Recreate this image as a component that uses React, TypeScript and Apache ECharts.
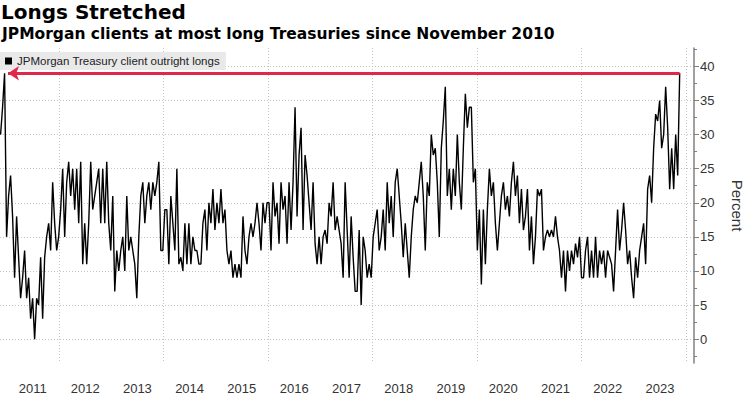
import React, { useEffect, useRef } from 'react';
import * as echarts from 'echarts';

const chartTitle = 'Longs Stretched';
const chartSubtitle = 'JPMorgan clients at most long Treasuries since November 2010';
const seriesName = 'JPMorgan Treasury client outright longs';

// biweekly observations starting 2010-11-19
const firstObs = [2010, 10, 19];
const stepDays = 14;
const longs = [
  30, 34, 39, 15, 21, 24, 18, 9, 18, 12,
  6, 9, 13, 6, 9, 3, 6, 0, 6, 5,
  12, 3, 12, 15, 17, 13, 23, 17, 13, 15,
  19, 25, 15, 23, 26, 21, 25, 19, 25, 17,
  26, 11, 17, 11, 17, 26, 19, 21, 23, 25,
  17, 25, 17, 26, 17, 13, 21, 7, 13, 10,
  13, 15, 10, 21, 13, 15, 13, 11, 6, 15,
  21, 23, 17, 21, 23, 19, 23, 21, 23, 26,
  13, 13, 19, 19, 11, 21, 17, 13, 25, 11,
  12, 10, 17, 11, 17, 11, 15, 13, 13, 11,
  11, 17, 19, 13, 20, 17, 22, 16, 20, 17,
  22, 17, 19, 13, 11, 13, 9, 11, 9, 11,
  9, 18, 13, 11, 15, 17, 15, 17, 20, 17,
  13, 20, 17, 20, 20, 13, 23, 18, 20, 14,
  23, 19, 21, 14, 23, 16, 23, 34, 18, 27,
  31, 16, 27, 24, 20, 16, 23, 14, 11, 15,
  11, 15, 16, 14, 20, 18, 23, 16, 18, 16,
  14, 9, 23, 16, 9, 18, 12, 7, 7, 16,
  5, 15, 13, 9, 11, 9, 15, 17, 19, 13,
  15, 19, 13, 23, 17, 21, 15, 23, 25, 21,
  17, 12, 17, 13, 9, 15, 19, 21, 20, 23,
  26, 21, 13, 23, 21, 30, 27, 28, 23, 15,
  28, 32, 37, 21, 25, 19, 25, 21, 30, 23,
  19, 28, 36, 31, 34, 34, 23, 25, 13, 19,
  8, 19, 11, 19, 25, 21, 23, 17, 13, 17,
  21, 23, 19, 21, 18, 23, 26, 21, 24, 17,
  22, 16, 18, 22, 13, 18, 11, 15, 22, 21,
  22, 13, 15, 16, 15, 16, 15, 18, 15, 13,
  9, 13, 7, 13, 10, 13, 11, 14, 12, 15,
  9, 9, 13, 15, 9, 13, 9, 15, 9, 13,
  11, 13, 9, 13, 12, 11, 7, 13, 19, 13,
  16, 20, 16, 11, 13, 9, 6, 12, 9, 13,
  15, 17, 11, 22, 24, 20, 28, 33, 32, 35,
  28, 30, 37, 31, 22, 28, 22, 30, 24, 39,
];

const yearLabels = [2011, 2012, 2013, 2014, 2015, 2016, 2017, 2018, 2019, 2020, 2021, 2022, 2023];
const gridYears = [2012, 2014, 2016, 2018, 2020, 2022, 2024];
const yTicks = [0, 5, 10, 15, 20, 25, 30, 35, 40];
const yMinorTicks = [-2.5, 2.5, 7.5, 12.5, 17.5, 22.5, 27.5, 32.5, 37.5, 42.5];
const recordLevel = 39;
const arrowDate = [2011, 0, 10];
const axisStart = [2010, 10, 15];
const axisEnd = [2024, 1, 25];
const yMin = -3.5;
const yMax = 42.7;

const FONT = 'Arial, "Liberation Sans", sans-serif';
const TITLE_FONT = '"DejaVu Sans", Verdana, sans-serif';

export default function App() {
  const ref = useRef<HTMLDivElement>(null);
  useEffect(() => {
    if (!ref.current) return;
    const chart = echarts.init(ref.current, null, { renderer: 'svg' });
    const t0 = Date.UTC(firstObs[0], firstObs[1], firstObs[2]);
    const data = longs.map((v, i) => [t0 + i * stepDays * 86400000, v]);
    const lastT = data[data.length - 1][0];
    const dotted = { color: '#c4c4c4', width: 1, type: [1, 2] as any };
    chart.setOption({
      animation: false,
      backgroundColor: '#ffffff',
      textStyle: { fontFamily: FONT },
      title: [
        {
          text: chartTitle,
          left: 1,
          top: 2,
          padding: 0,
          textStyle: { fontSize: 20, fontWeight: 'bold', color: '#000', fontFamily: TITLE_FONT },
        },
        {
          text: chartSubtitle,
          left: 2,
          top: 26,
          padding: 0,
          textStyle: { fontSize: 15.5, fontWeight: 'bold', color: '#000', fontFamily: TITLE_FONT },
        },
      ],
      legend: {
        data: [seriesName],
        left: 0,
        top: 52,
        backgroundColor: '#e9e9e9',
        padding: [3, 6, 3, 5],
        icon: 'rect',
        itemWidth: 7,
        itemHeight: 7,
        itemGap: 4,
        textStyle: { fontSize: 11.5, color: '#222', fontFamily: FONT },
        selectedMode: false,
      },
      grid: {
        left: 0,
        right: 56,
        top: 48,
        bottom: 34,
        containLabel: false,
        outerBoundsMode: 'none',
      },
      xAxis: {
        type: 'value',
        min: Date.UTC(axisStart[0], axisStart[1], axisStart[2]),
        max: Date.UTC(axisEnd[0], axisEnd[1], axisEnd[2]),
        axisLine: { show: false },
        axisTick: { show: false, customValues: gridYears.map((y) => Date.UTC(y, 0, 1)) },
        splitLine: { show: true, lineStyle: dotted },
        axisLabel: {
          customValues: yearLabels.map((y) => Date.UTC(y, 6, 2)),
          formatter: (v: number) => String(new Date(v).getUTCFullYear()),
          fontSize: 13,
          color: '#333',
          margin: 19,
          fontFamily: FONT,
        },
      },
      yAxis: [
        {
          type: 'value',
          position: 'right',
          min: yMin,
          max: yMax,
          name: 'Percent',
          nameLocation: 'middle',
          nameRotate: -90,
          nameGap: 36,
          nameTextStyle: { fontSize: 15, color: '#333', fontFamily: FONT },
          axisLine: { show: true, lineStyle: { color: '#808080', width: 1.5 } },
          axisTick: { show: true, length: 5, customValues: yTicks, lineStyle: { color: '#808080' } },
          axisLabel: { customValues: yTicks, fontSize: 13, color: '#333', margin: 6, fontFamily: FONT },
          splitLine: { show: true, lineStyle: dotted },
        },
        {
          type: 'value',
          position: 'right',
          offset: 0,
          min: yMin,
          max: yMax,
          axisLine: { show: false },
          axisTick: { show: true, length: 3, customValues: yMinorTicks, lineStyle: { color: '#808080' } },
          axisLabel: { show: false },
          splitLine: { show: false },
        },
      ],
      series: [
        {
          name: seriesName,
          type: 'line',
          data,
          showSymbol: false,
          symbol: 'none',
          itemStyle: { color: '#000' },
          lineStyle: { color: '#000', width: 1.4 },
          z: 3,
          markLine: {
            silent: true,
            symbol: ['none', 'arrow'],
            symbolSize: [11, 11],
            label: { show: false },
            lineStyle: { color: '#e0284b', width: 3, type: 'solid' },
            data: [
              [
                { coord: [lastT, recordLevel] },
                { coord: [Date.UTC(arrowDate[0], arrowDate[1], arrowDate[2]), recordLevel] },
              ],
            ],
          },
        },
      ],
    });
    return () => chart.dispose();
  }, []);
  return (
    <div
      ref={ref}
      style={{ position: 'fixed', left: 0, top: 0, width: 750, height: 397, background: '#fff' }}
    />
  );
}
